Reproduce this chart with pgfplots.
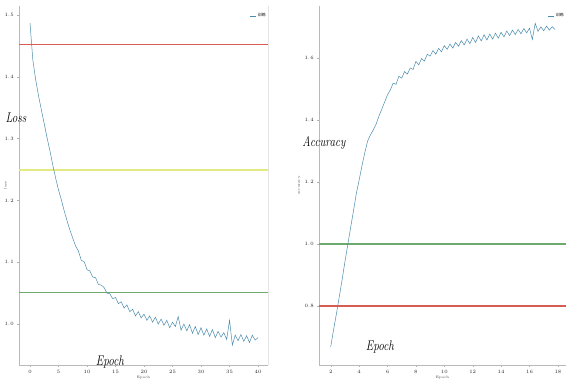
\documentclass[border=0pt]{standalone}
\usepackage{fontspec}
\newfontfamily\cjk{Noto Sans CJK SC}
\usepackage{pgfplots}
\pgfplotsset{compat=1.18}
\definecolor{curve}{RGB}{74,140,172}
\definecolor{redl}{RGB}{214,92,84}
\definecolor{yell}{RGB}{228,234,130}
\definecolor{grnl}{RGB}{110,170,110}
\pgfplotsset{
  myax/.style={
    scale only axis, height=359pt,
    axis lines=left, axis line style={-, gray!55},
    tick align=outside, major tick length=1.8pt,
    tick style={gray!60, thin},
    tick label style={font=\fontsize{5}{5}\selectfont, text=gray!30!black},
    label style={font=\fontsize{3.5}{4}\selectfont, text=gray!50!black},
    xtick pos=bottom, ytick pos=left,
    yticklabel style={/pgf/number format/.cd, fixed, fixed zerofill, precision=1},
    legend style={draw=none, fill=none, font=\cjk\fontsize{4}{4}\selectfont, inner sep=0pt},
    legend image code/.code={\draw[##1] (0pt,0pt) -- (6pt,0pt);},
    clip=false,
  }
}
\begin{document}
\begin{tikzpicture}
\useasboundingbox (0pt,0pt) rectangle (566pt,385pt);
\begin{axis}[myax, width=249pt, at={(19pt,20pt)}, anchor=south west,
  xmin=-1.93, xmax=41.75, ymin=0.9337, ymax=1.5146,
  xtick={0,5,...,40}, ytick={1.0,1.1,1.2,1.3,1.4,1.5},
  xlabel={Epoch}, ylabel={loss},
  xlabel style={yshift=4pt}, ylabel style={yshift=-9pt},
  legend style={at={(rel axis cs:1,0.985)}, anchor=north east}]
\addplot[color=redl, line width=1.6pt, forget plot] coordinates {(-1.93,1.452) (41.75,1.452)};
\addplot[color=yell, line width=1.4pt, forget plot] coordinates {(-1.93,1.249) (41.75,1.249)};
\addplot[color=grnl, line width=1.4pt, forget plot] coordinates {(-1.93,1.051) (41.75,1.051)};
\addplot[draw=curve, line width=0.5pt] coordinates {
(0,1.487) (0.5,1.427) (1,1.395) (1.5,1.369) (2,1.346) (2.5,1.324) (3,1.301) (3.5,1.280)
(4,1.257) (4.5,1.236) (5,1.217) (5.5,1.201) (6,1.183) (6.5,1.167) (7,1.152) (7.5,1.139)
(8,1.126) (8.5,1.118) (9,1.103) (9.5,1.101) (10,1.088) (10.5,1.086) (11,1.076) (11.5,1.075)
(12,1.064) (12.5,1.063) (13,1.059) (13.5,1.050) (14,1.049) (14.5,1.041) (15,1.043) (15.5,1.033)
(16,1.036) (16.5,1.026) (17,1.031) (17.5,1.020) (18,1.024) (18.5,1.013) (19,1.020) (19.5,1.010)
(20,1.016) (20.5,1.006) (21,1.013) (21.5,1.003) (22,1.011) (22.5,1.000) (23,1.008) (23.5,0.998)
(24,1.006) (24.5,0.994) (25,1.003) (25.5,0.996) (26,1.012) (26.5,0.990) (27,1.000) (27.5,0.989)
(28,0.999) (28.5,0.985) (29,0.996) (29.5,0.983) (30,0.994) (30.5,0.982) (31,0.992) (31.5,0.980)
(32,0.991) (32.5,0.978) (33,0.988) (33.5,0.979) (34,0.986) (34.5,0.975) (35,1.006) (35.5,0.966)
(36,0.982) (36.5,0.973) (37,0.983) (37.5,0.972) (38,0.981) (38.5,0.970) (39,0.982) (39.5,0.974)
(40,0.978)};
\addlegendentry{训练}
\draw[gray!20] (rel axis cs:1,0) -- (rel axis cs:1,1);
\end{axis}
\begin{axis}[myax, width=247pt, at={(319pt,20pt)}, anchor=south west,
  xmin=1.176, xmax=18.57, ymin=0.6096, ymax=1.7677,
  xtick={2,4,...,18}, ytick={0.8,1.0,1.2,1.4,1.6},
  xlabel={Epoch}, ylabel={accuracy},
  xlabel style={yshift=4pt}, ylabel style={yshift=-3pt},
  legend style={at={(rel axis cs:1,0.985)}, anchor=north east}]
\addplot[color=grnl, line width=1.4pt, forget plot] coordinates {(1.176,1.0) (18.57,1.0)};
\addplot[color=redl, line width=1.6pt, forget plot] coordinates {(1.176,0.8) (18.57,0.8)};
\addplot[draw=curve, line width=0.5pt] coordinates {
(2.0,0.668) (2.2,0.723) (2.4,0.774) (2.6,0.829) (2.8,0.884) (3.0,0.942) (3.2,0.997) (3.4,1.052)
(3.6,1.106) (3.8,1.161) (4.0,1.206) (4.2,1.252) (4.4,1.294) (4.6,1.332) (4.8,1.352) (5.0,1.368)
(5.2,1.387) (5.4,1.413) (5.6,1.435) (5.8,1.458) (6.0,1.481) (6.2,1.497) (6.4,1.519) (6.6,1.515)
(6.8,1.541) (7.0,1.535) (7.2,1.556) (7.4,1.548) (7.6,1.568) (7.8,1.563) (8.0,1.589) (8.2,1.578)
(8.4,1.598) (8.6,1.590) (8.8,1.612) (9.0,1.606) (9.2,1.624) (9.4,1.612) (9.6,1.631) (9.8,1.620)
(10.0,1.640) (10.2,1.628) (10.4,1.645) (10.6,1.632) (10.8,1.650) (11.0,1.638) (11.2,1.656) (11.4,1.642)
(11.6,1.661) (11.8,1.646) (12.0,1.666) (12.2,1.650) (12.4,1.671) (12.6,1.655) (12.8,1.675) (13.0,1.658)
(13.2,1.677) (13.4,1.661) (13.6,1.680) (13.8,1.664) (14.0,1.683) (14.2,1.668) (14.4,1.687) (14.6,1.672)
(14.8,1.690) (15.0,1.676) (15.2,1.692) (15.4,1.678) (15.6,1.695) (15.8,1.681) (16.0,1.696) (16.2,1.660)
(16.4,1.712) (16.6,1.686) (16.8,1.700) (17.0,1.688) (17.2,1.703) (17.4,1.690) (17.6,1.701) (17.8,1.692)};
\addlegendentry{训练}
\end{axis}
\node[font=\fontsize{14}{14}\selectfont\itshape, xscale=0.8] at (16pt,267pt) {Loss};
\node[font=\fontsize{14}{14}\selectfont\itshape, xscale=0.8] at (324pt,242pt) {Accuracy};
\node[font=\fontsize{14}{14}\selectfont\itshape, xscale=0.8] at (110pt,23pt) {Epoch};
\node[font=\fontsize{14}{14}\selectfont\itshape, xscale=0.8] at (380pt,38pt) {Epoch};
\end{tikzpicture}
\end{document}
